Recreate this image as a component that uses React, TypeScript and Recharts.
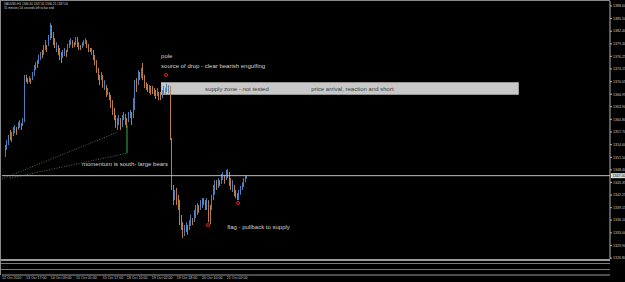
import React from 'react';
import {
  ComposedChart,
  Bar,
  XAxis,
  YAxis,
  ReferenceLine,
  ReferenceArea,
  ReferenceDot,
} from 'recharts';

// XAUUSD H1, 12 - 21 Oct 2010. bar index 0 = first bar on the chart
const highs = [
  1354.5, 1355.7, 1357.0, 1358.2, 1357.7, 1358.9, 1359.4, 1358.9, 1360.1, 1360.6, 1359.9, 1361.1,
  1371.7, 1371.7, 1370.9, 1371.4, 1370.9, 1372.4, 1374.1, 1374.8, 1375.3, 1376.6, 1377.3, 1377.8,
  1379.0, 1380.2, 1379.0, 1381.5, 1384.4, 1383.9, 1382.2, 1380.7, 1379.7, 1379.0, 1378.3, 1377.3,
  1377.8, 1378.3, 1377.8, 1379.3, 1380.2, 1380.7, 1380.2, 1379.7, 1381.0, 1381.0, 1379.7, 1379.0,
  1379.7, 1380.2, 1380.7, 1380.2, 1379.3, 1378.3, 1378.3, 1377.8, 1376.6, 1375.3, 1373.4, 1371.7,
  1372.4, 1371.7, 1370.4, 1369.2, 1368.5, 1367.5, 1366.8, 1365.5, 1363.6, 1361.9, 1361.1, 1361.9,
  1361.1, 1361.9, 1362.6, 1362.1, 1361.1, 1362.6, 1363.1, 1362.6, 1366.0, 1370.4, 1370.9, 1372.9,
  1372.4, 1373.4, 1374.6, 1371.7, 1369.9, 1369.5, 1369.2, 1369.0, 1369.0, 1368.5, 1368.0, 1368.5,
  1367.5, 1367.5, 1368.0, 1369.0, 1368.5, 1369.5, 1369.2, 1369.0, 1356.2, 1344.7, 1343.5, 1344.0,
  1342.3, 1341.0, 1337.4, 1335.6, 1334.9, 1335.6, 1334.9, 1336.1, 1337.4, 1336.6, 1338.6, 1339.8,
  1340.3, 1339.8, 1341.0, 1341.5, 1341.5, 1341.0, 1341.5, 1341.0, 1339.8, 1342.3, 1344.7, 1345.9,
  1345.9, 1346.4, 1345.9, 1347.4, 1347.9, 1347.2, 1348.4, 1348.6, 1347.9, 1346.4, 1345.9, 1344.7,
  1343.5, 1342.7, 1343.5, 1344.5, 1345.4, 1346.4, 1346.9, 1347.05,
];

const lows = [
  1351.6, 1353.3, 1354.5, 1355.7, 1355.2, 1356.7, 1357.4, 1357.0, 1358.2, 1358.7, 1358.2, 1359.2,
  1360.1, 1369.9, 1369.5, 1369.9, 1369.5, 1370.4, 1371.4, 1372.9, 1373.4, 1374.4, 1375.3, 1375.8,
  1376.6, 1377.8, 1377.3, 1378.8, 1380.2, 1380.7, 1379.0, 1378.3, 1377.3, 1376.6, 1375.3, 1374.6,
  1375.8, 1376.3, 1376.1, 1377.3, 1378.3, 1379.0, 1378.3, 1378.5, 1379.0, 1378.5, 1377.8, 1377.8,
  1378.3, 1378.8, 1379.3, 1378.3, 1377.3, 1377.3, 1376.6, 1375.3, 1374.1, 1372.2, 1370.4, 1369.2,
  1370.4, 1368.5, 1368.0, 1366.3, 1366.8, 1365.5, 1363.6, 1361.9, 1360.6, 1358.7, 1358.2, 1359.4,
  1358.2, 1358.9, 1360.6, 1359.4, 1358.7, 1360.1, 1361.1, 1359.4, 1361.1, 1363.1, 1367.5, 1369.2,
  1370.4, 1370.9, 1370.4, 1368.5, 1368.0, 1367.5, 1367.2, 1366.8, 1367.0, 1366.5, 1365.8, 1366.5,
  1365.5, 1365.5, 1366.0, 1367.0, 1366.8, 1367.5, 1367.2, 1355.7, 1343.5, 1339.8, 1341.0, 1339.8,
  1338.6, 1334.9, 1333.7, 1331.7, 1332.2, 1333.2, 1332.5, 1333.7, 1334.7, 1334.9, 1335.6, 1336.6,
  1337.4, 1337.9, 1338.6, 1339.1, 1339.8, 1338.6, 1338.6, 1335.6, 1335.1, 1338.6, 1341.0, 1342.3,
  1343.5, 1344.0, 1344.5, 1345.0, 1345.9, 1345.0, 1345.9, 1346.4, 1344.5, 1343.5, 1343.0, 1342.0,
  1341.5, 1341.0, 1341.0, 1342.3, 1343.5, 1344.2, 1345.4, 1346.25,
];

// u = bull bar, d = bear bar, g = bar marked green
const dirs =
  'uuuduuuduudu' + 'udduduuuduud' + 'uuduuddduddd' + 'uuduuudduddd' +
  'uuuddduddddd' + 'udududdddduu' + 'duudduuduudu' + 'dudddduddddu' +
  'dduuduudddud' + 'dddduuduuduu' + 'uduugdudduuu' + 'duduuduuddud' + 'dduuuuuu';

const priceTicks = [
  1326.8, 1329.9, 1333.0, 1336.1, 1339.15, 1342.25, 1345.35, 1348.4, 1351.5, 1354.6, 1357.7,
  1360.8, 1363.9, 1366.95, 1370.05, 1373.15, 1376.25, 1379.3, 1382.4, 1385.5, 1388.6,
];

const timeTicks = [-1.9, 13.1, 28.6, 44.4, 61, 76.1, 91.7, 107.3, 123, 138.6];
const timeLabels = [
  '12 Oct 2010', '13 Oct 17:00', '14 Oct 09:00', '15 Oct 01:00', '15 Oct 17:00',
  '18 Oct 10:00', '19 Oct 02:00', '19 Oct 18:00', '20 Oct 10:00', '21 Oct 02:00',
];

const lastPrice = 1347.0;

// indicator sub windows (too small to read, only the coloured stretches)
const pane1Segments = [
  { from: -1.9, to: 33, color: '#cfcfcf' },
  { from: 33, to: 151, color: '#6f92cc' },
  { from: 151, to: 378, color: '#a9a9a9' },
];
const pane2Segments = [
  { from: -1.9, to: 30, color: '#42b04a' },
  { from: 30, to: 378, color: '#a9a9a9' },
  { from: 67, to: 80, color: '#d04444' },
  { from: 80, to: 87, color: '#42b04a' },
  { from: 100, to: 114, color: '#d04444' },
  { from: 122, to: 134, color: '#42b04a' },
  { from: 145, to: 151, color: '#d04444' },
];

const X_DOMAIN: [number, number] = [-1.9, 378];
const Y_DOMAIN: [number, number] = [1326.58, 1389.8];

const UP = '#4f7fb8';
const DOWN = '#b97d45';
const GREEN = '#3cae45';
const FONT = 'Liberation Sans, Arial, sans-serif';

const candles = highs.map((h, i) => ({ i, range: [lows[i], h], dir: dirs[i] }));

function Candle(props: any) {
  const { x, y, width, height, payload } = props;
  const color = payload.dir === 'u' ? UP : payload.dir === 'g' ? GREEN : DOWN;
  const top = Math.min(y, y + height);
  return (
    <rect x={Math.round(x + width / 2)} y={top} width={1} height={Math.max(Math.abs(height), 1)} fill={color} />
  );
}

function Arrow(props: any) {
  const { cx, cy } = props;
  return <circle cx={cx} cy={cy} r={1.6} fill="#5a0000" stroke="#e02020" strokeWidth={0.9} />;
}

function note(text: string, color: string) {
  return (props: any) => (
    <text x={props.cx} y={props.cy} fill={color} fontSize={6} fontFamily={FONT} dominantBaseline="central">
      {text}
    </text>
  );
}

function PriceTag(props: any) {
  const { viewBox } = props;
  const x = viewBox.x + viewBox.width + 1;
  return (
    <g>
      <rect x={x} y={viewBox.y - 2.5} width={15} height={5} fill="#dcdcdc" />
      <text x={x + 1.5} y={viewBox.y} fontSize={3.6} fontFamily={FONT} fill="#000" dominantBaseline="central">
        {lastPrice.toFixed(2)}
      </text>
    </g>
  );
}

function PaneTag(props: any) {
  const { viewBox } = props;
  return <rect x={viewBox.x + viewBox.width + 2} y={viewBox.y - 1.5} width={5} height={3} fill="#e8e8e8" />;
}

function TimeTick(props: any) {
  const { x, y, payload } = props;
  const label = timeLabels[timeTicks.indexOf(payload.value)];
  return (
    <text x={x} y={y} fontSize={3.6} fontFamily={FONT} fill="#c8c8c8" dominantBaseline="central">
      {label}
    </text>
  );
}

function Pane({ segments, withTime }: { segments: typeof pane1Segments; withTime?: boolean }) {
  return (
    <ComposedChart
      width={625}
      height={withTime ? 13 : 5}
      data={candles}
      margin={{ top: 0, right: 15, bottom: 0, left: 2 }}
    >
      <XAxis
        dataKey="i"
        type="number"
        domain={X_DOMAIN}
        allowDataOverflow
        hide={!withTime}
        ticks={timeTicks}
        interval={0}
        height={8}
        tickLine={false}
        tickSize={0}
        tickMargin={0}
        stroke="#9a9a9a"
        tick={(p: any) => <TimeTick {...p} y={p.y + 3} />}
      />
      <YAxis hide domain={[0, 1]} />
      {segments.map((s, k) => (
        <ReferenceLine
          key={k}
          segment={[{ x: s.from, y: 0.5 }, { x: s.to, y: 0.5 }]}
          stroke={s.color}
          strokeWidth={3}
          strokeDasharray="1 1.2"
        />
      ))}
      <ReferenceLine y={0.5} stroke="none" label={PaneTag} />
    </ComposedChart>
  );
}

export default function App() {
  return (
    <div style={{ position: 'absolute', left: 0, top: 0, width: 625, height: 282, background: '#000', overflow: 'hidden' }}>
      <ComposedChart width={625} height={260} data={candles} margin={{ top: 1, right: 0, bottom: 1, left: 2 }}>
        <XAxis dataKey="i" type="number" domain={X_DOMAIN} allowDataOverflow hide />
        <YAxis
          orientation="right"
          domain={Y_DOMAIN}
          allowDataOverflow
          ticks={priceTicks}
          interval={0}
          width={15}
          tickSize={2}
          tickMargin={1}
          stroke="#b4b4b4"
          tickFormatter={(v: number) => v.toFixed(2)}
          tick={{ fontSize: 3.6, fill: '#c8c8c8', fontFamily: FONT }}
        />
        <ReferenceArea x1={97.5} x2={321} y1={1366.8} y2={1369.9} fill="#c8c8c8" fillOpacity={1} stroke="none" />
        <ReferenceLine
          segment={[{ x: -1.9, y: 1346.2 }, { x: 70.6, y: 1357.7 }]}
          stroke="#4f6f4f"
          strokeDasharray="1 1.5"
        />
        <ReferenceLine
          segment={[{ x: 3.1, y: 1346.4 }, { x: 76.2, y: 1352.5 }]}
          stroke="#4f6f4f"
          strokeDasharray="1 1.5"
        />
        <ReferenceLine segment={[{ x: 76.2, y: 1359.4 }, { x: 76.2, y: 1352.5 }]} stroke={GREEN} />
        <ReferenceLine y={lastPrice} stroke="#bdbdbd" label={PriceTag} />
        <Bar dataKey="range" barSize={1} shape={Candle} isAnimationActive={false} />
        <ReferenceDot x={97.5} y={1376.3} shape={note('pole', '#d0d0d0')} />
        <ReferenceDot x={97.5} y={1373.9} shape={note('source of drop - clear bearish engulfing', '#d0d0d0')} />
        <ReferenceDot x={125} y={1368.2} shape={note('supply zone - not tested', '#3a3a3a')} />
        <ReferenceDot x={191.3} y={1368.2} shape={note('price arrival, reaction and short', '#3a3a3a')} />
        <ReferenceDot x={48.1} y={1349.9} shape={note('momentum is south- large bears', '#d0d0d0')} />
        <ReferenceDot x={138.8} y={1334.4} shape={note('flag - pullback to supply', '#d0d0d0')} />
        <ReferenceDot x={100.6} y={1371.7} shape={Arrow} />
        <ReferenceDot x={126.9} y={1334.9} shape={Arrow} />
        <ReferenceDot x={145.6} y={1340.3} shape={Arrow} />
      </ComposedChart>
      <div style={{ position: 'absolute', left: 0, top: 259, width: 610, height: 2, background: '#9a9a9a' }} />
      <div style={{ position: 'absolute', left: 0, top: 263, width: 610, height: 1, background: '#7a7a7a' }} />
      <div style={{ position: 'absolute', left: 0, top: 264 }}>
        <Pane segments={pane1Segments} />
      </div>
      <div style={{ position: 'absolute', left: 0, top: 269, width: 610, height: 1, background: '#7a7a7a' }} />
      <div style={{ position: 'absolute', left: 0, top: 270 }}>
        <Pane segments={pane2Segments} withTime />
      </div>
      <div style={{ position: 'absolute', left: 0, top: 0, width: 610, height: 1, background: '#8a8a8a' }} />
      <div style={{ position: 'absolute', left: 0, top: 0, width: 1, height: 275, background: '#8a8a8a' }} />
      <svg style={{ position: 'absolute', left: 0, top: 0 }} width={200} height={14}>
        <text x={4} y={5} fontSize={3} fontFamily={FONT} fill="#d0d0d0">
          XAUUSD,H1  1346.40 1347.05 1346.25 1347.00
        </text>
        <text x={4} y={9} fontSize={3} fontFamily={FONT} fill="#d0d0d0">
          31 minutes 54 seconds left to bar end
        </text>
      </svg>
    </div>
  );
}
